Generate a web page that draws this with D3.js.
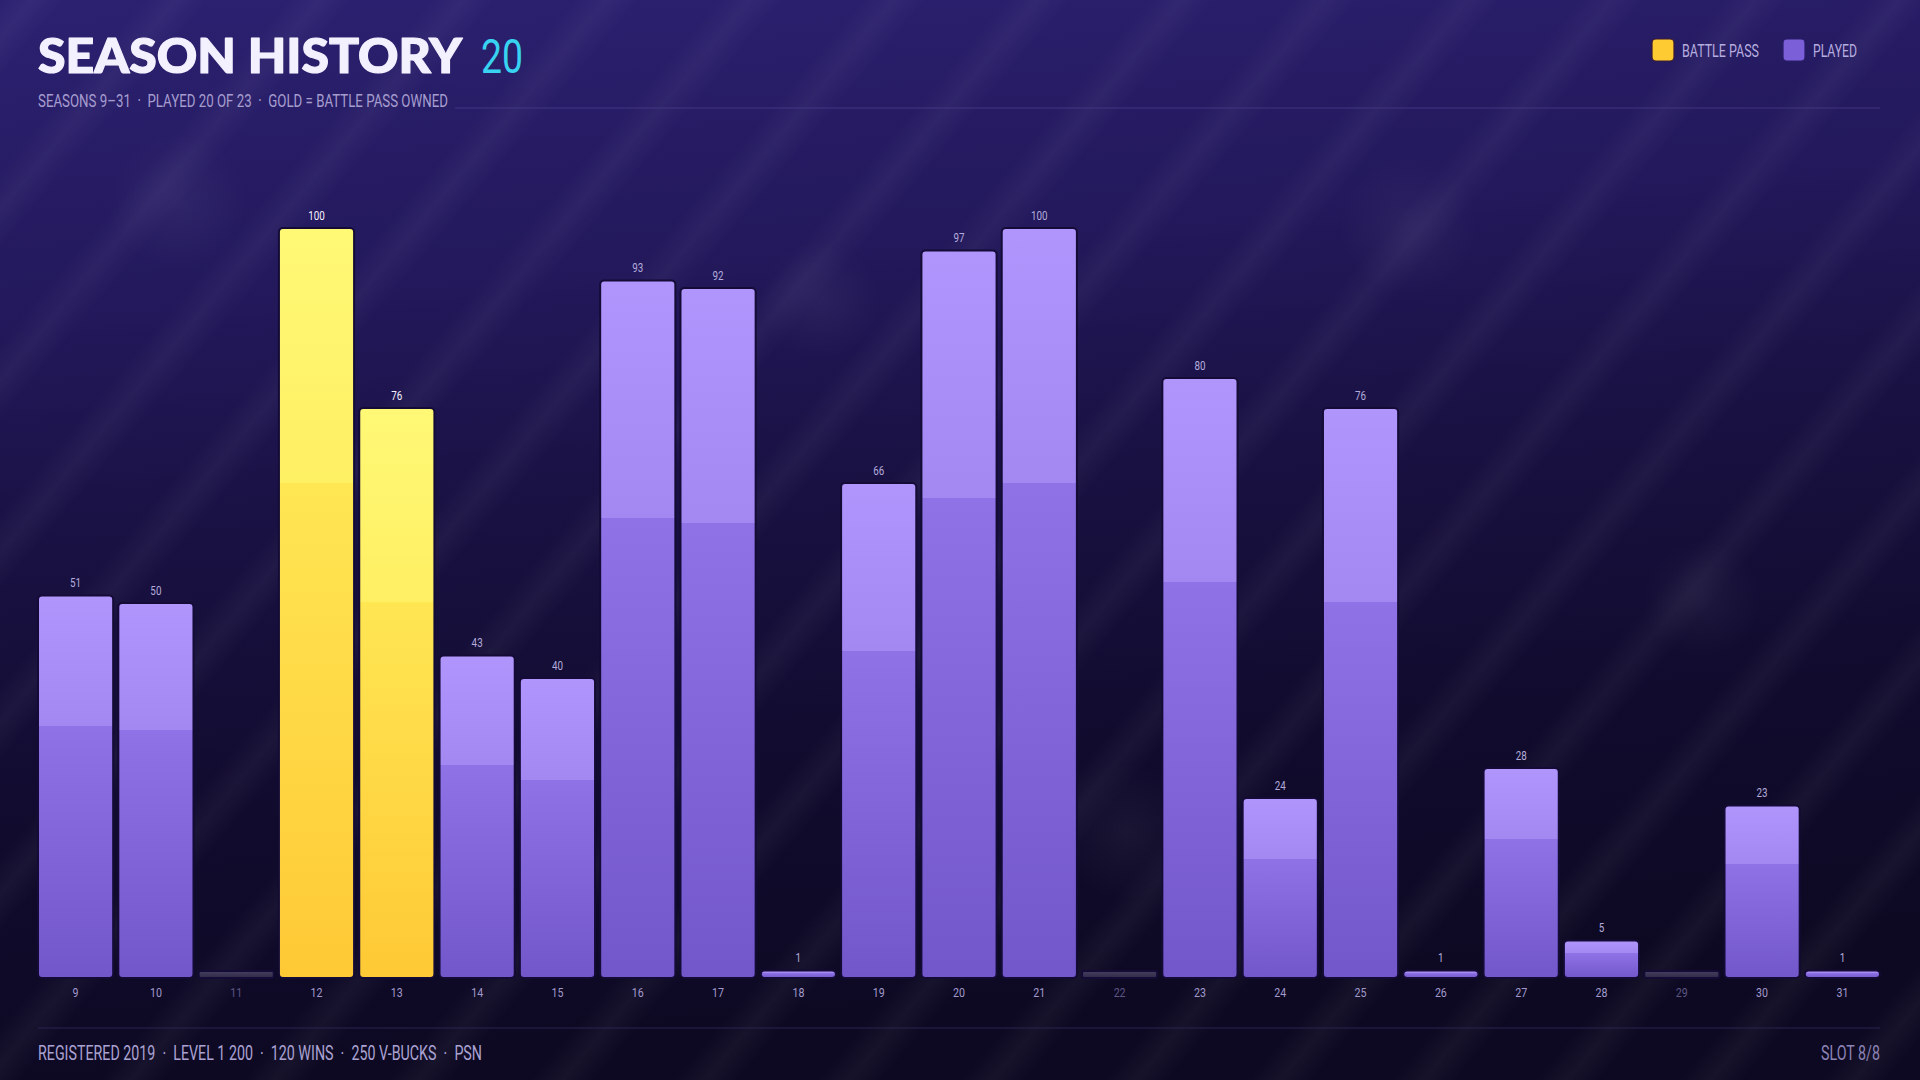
<!DOCTYPE html>
<html>
<head>
<meta charset="utf-8">
<script src="https://cdn.jsdelivr.net/npm/d3@7/dist/d3.min.js"></script>
<style>
  html, body { margin: 0; padding: 0; background: #0e0a24; }
  svg { display: block; }
</style>
</head>
<body>
<svg id="chart" width="1920" height="1080"></svg>
<script>
// ---- data ----
const seasons = [9, 10, 11, 12, 13, 14, 15, 16, 17, 18, 19, 20, 21, 22, 23, 24, 25, 26, 27, 28, 29, 30, 31];
const progress = [51, 50, 0, 100, 76, 43, 40, 93, 92, 1, 66, 97, 100, 0, 80, 24, 76, 1, 28, 5, 0, 23, 1];
const battlePassSeasons = [12, 13];
const legendLabels = ["BATTLE PASS", "PLAYED"];
const titleText = "SEASON HISTORY";
const titleCount = "20";
const subtitleText = "SEASONS 9\u201331  \u00b7  PLAYED 20 OF 23  \u00b7  GOLD = BATTLE PASS OWNED";
const footerText = "REGISTERED 2019  \u00b7  LEVEL 1 200  \u00b7  120 WINS  \u00b7  250 V-BUCKS  \u00b7  PSN";
const slotText = "SLOT 8/8";

const W = 1920, H = 1080;
const left = 38, right = 1880;
const COND = "Roboto, 'Noto Sans', sans-serif";

const svg = d3.select("#chart");
const defs = svg.append("defs");

// condensed text helper: squeeze to a target width
function squeeze(sel, width) {
  sel.attr("textLength", width).attr("lengthAdjust", "spacingAndGlyphs");
  return sel;
}

// background gradient
const bg = defs.append("linearGradient").attr("id", "bg").attr("x1", 0).attr("y1", 0).attr("x2", 0.15).attr("y2", 1);
[[0, "#2c2171"], [0.3, "#22185a"], [0.5, "#191142"], [0.75, "#110b2e"], [1, "#0d0922"]]
  .forEach(([o, c]) => bg.append("stop").attr("offset", o).attr("stop-color", c));

const stripes = defs.append("pattern").attr("id", "stripes").attr("patternUnits", "userSpaceOnUse")
  .attr("width", 110).attr("height", 110).attr("patternTransform", "rotate(40)");
const sg = defs.append("linearGradient").attr("id", "stripeG").attr("x1", 0).attr("x2", 1).attr("y1", 0).attr("y2", 0);
[[0, 0], [0.5, 0.04], [1, 0]].forEach(([o, a]) => sg.append("stop").attr("offset", o).attr("stop-color", "#ffffff").attr("stop-opacity", a));
stripes.append("rect").attr("x", 0).attr("y", 0).attr("width", 50).attr("height", 110).attr("fill", "url(#stripeG)");

const glow = defs.append("radialGradient").attr("id", "glow");
glow.append("stop").attr("offset", 0).attr("stop-color", "#ffffff").attr("stop-opacity", 0.045);
glow.append("stop").attr("offset", 1).attr("stop-color", "#ffffff").attr("stop-opacity", 0);

// bar gradients
function barGrad(id, stops) {
  const g = defs.append("linearGradient").attr("id", id).attr("x1", 0).attr("y1", 0).attr("x2", 0).attr("y2", 1);
  stops.forEach(([o, c]) => g.append("stop").attr("offset", o).attr("stop-color", c));
}
barGrad("gPlayed", [[0, "#b095fd"], [0.34, "#a388f2"], [0.34, "#8e72e6"], [1, "#7257cb"]]);
barGrad("gBP", [[0, "#fff976"], [0.34, "#ffef63"], [0.34, "#ffe653"], [1, "#fec935"]]);
barGrad("gNone", [[0, "#45405f"], [1, "#2e2a47"]]);

svg.append("rect").attr("width", W).attr("height", H).attr("fill", "url(#bg)");
svg.append("rect").attr("width", W).attr("height", H).attr("fill", "url(#stripes)");
const glowSpots = [[178, 202, 70], [1408, 226, 70], [1702, 600, 60], [1127, 832, 70], [820, 300, 60]];
svg.selectAll("circle.glow").data(glowSpots).join("circle").attr("class", "glow")
  .attr("cx", d => d[0]).attr("cy", d => d[1]).attr("r", d => d[2]).attr("fill", "url(#glow)");

// ---- header ----
const title = svg.append("text").attr("x", left).attr("y", 73)
  .attr("font-family", "Lato, 'Noto Sans', sans-serif").attr("font-weight", 900)
  .attr("font-size", 47).attr("fill", "#f3f0ff").attr("stroke", "#f3f0ff").attr("stroke-width", 1.2)
  .attr("stroke-linejoin", "round").text(titleText);
squeeze(title, 424);
squeeze(svg.append("text").attr("x", 481).attr("y", 73)
  .attr("font-family", COND).attr("font-weight", 400).attr("font-size", 48)
  .attr("fill", "#38d3f0").text(titleCount), 42);

squeeze(svg.append("text").attr("x", left).attr("y", 107)
  .attr("font-family", COND).attr("font-size", 18).attr("fill", "#a69dcf")
  .style("white-space", "pre").text(subtitleText), 410);
svg.append("line").attr("x1", 455).attr("x2", right).attr("y1", 108).attr("y2", 108)
  .attr("stroke", "#4a3f8c").attr("stroke-width", 1.2).attr("opacity", 0.75);

// legend
const legendColors = ["#ffcb33", "#7a5fd8"];
const legendX = [1652, 1783];
const legendW = [77, 44];
legendLabels.forEach((lab, i) => {
  svg.append("rect").attr("x", legendX[i]).attr("y", 39).attr("width", 22).attr("height", 22).attr("rx", 4)
    .attr("fill", legendColors[i]).attr("stroke", i === 0 ? "#3a1a30" : "#2a1d6a").attr("stroke-width", 1.2);
  squeeze(svg.append("text").attr("x", legendX[i] + 30).attr("y", 57)
    .attr("font-family", COND).attr("font-size", 18).attr("fill", "#b5acdf").text(lab), legendW[i]);
});

// ---- chart ----
const x = d3.scaleBand().domain(seasons).range([left, right]).paddingInner(0.064).paddingOuter(0);
const y = d3.scaleLinear().domain([0, 100]).range([978, 228]);
const data = seasons.map((s, i) => ({ season: s, value: progress[i], bp: battlePassSeasons.includes(s) }));

const g = svg.append("g");
g.selectAll("rect.bar").data(data).join("rect").attr("class", "bar")
  .attr("x", d => x(d.season)).attr("width", x.bandwidth())
  .attr("y", d => d.value > 0 ? y(d.value) : y(0) - 7)
  .attr("height", d => d.value > 0 ? y(0) - y(d.value) : 7)
  .attr("rx", d => d.value > 0 ? 4 : 2)
  .attr("fill", d => d.value === 0 ? "url(#gNone)" : d.bp ? "url(#gBP)" : "url(#gPlayed)")
  .attr("stroke", "#140b36").attr("stroke-width", 2);

g.selectAll("text.val").data(data.filter(d => d.value > 0)).join("text").attr("class", "val")
  .attr("x", d => x(d.season) + x.bandwidth() / 2).attr("y", d => y(d.value) - 8)
  .attr("text-anchor", "middle").attr("font-family", COND).attr("font-size", 12)
  .attr("fill", d => d.bp ? "#f4f1ff" : "#b3abdb")
  .attr("transform", d => `translate(${x(d.season) + x.bandwidth() / 2},0) scale(0.82,1) translate(${-(x(d.season) + x.bandwidth() / 2)},0)`)
  .text(d => d.value);

const axis = svg.append("g").attr("transform", `translate(0, ${y(0)})`)
  .call(d3.axisBottom(x).tickSize(0).tickPadding(10));
axis.select(".domain").remove();
axis.selectAll("text").attr("font-family", COND).attr("font-size", 13)
  .attr("transform", "scale(0.82,1)")
  .attr("fill", d => progress[seasons.indexOf(d)] === 0 ? "#5c5682" : "#a199cc");

// ---- footer ----
svg.append("line").attr("x1", left).attr("x2", right).attr("y1", 1028).attr("y2", 1028)
  .attr("stroke", "#2a2450").attr("stroke-width", 1.2);
squeeze(svg.append("text").attr("x", left).attr("y", 1060)
  .attr("font-family", COND).attr("font-size", 20).attr("fill", "#aaa2d2")
  .style("white-space", "pre").text(footerText), 444);
squeeze(svg.append("text").attr("x", right - 59).attr("y", 1060)
  .attr("font-family", COND).attr("font-size", 20).attr("fill", "#8c84b6").text(slotText), 59);
</script>
</body>
</html>
